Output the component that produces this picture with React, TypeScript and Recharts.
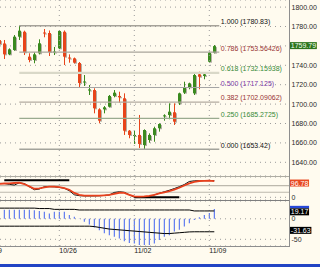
import {
  ComposedChart,
  Bar,
  Line,
  XAxis,
  YAxis,
  CartesianGrid,
  ReferenceLine,
} from "recharts";

// bar numbers (3 sessions per day), dates sit on bars 11, 26, 41
const bars = [
  -1, 0, 1, 2, 3, 4, 5, 6, 7, 8, 9, 10, 11, 12, 13, 14, 15, 16, 17, 18, 19, 20,
  21, 22, 23, 24, 25, 26, 27, 28, 29, 30, 31, 32, 33, 34, 35, 36, 37, 38, 39, 40,
  41, 42,
];
const opens = [
  1766.0, 1762.5, 1751.3, 1755.8, 1769.5, 1774.6, 1748.9, 1745.5, 1752.4, 1773.8,
  1773.3, 1753.2, 1757.5, 1774.6, 1748.0, 1747.2, 1742.4, 1722.3, 1714.0, 1714.5,
  1694.6, 1694.6, 1697.3, 1708.4, 1708.4, 1706.0, 1672.6, 1667.1, 1668.2, 1657.8,
  1663.0, 1668.2, 1675.1, 1687.5, 1688.8, 1691.6, 1700.8, 1711.8, 1717.3, 1711.1,
  1730.7, 1729.0, 1743.7, 1753.0,
];
const highs = [
  1768.1, 1766.1, 1757.5, 1771.2, 1780.83, 1775.7, 1752.4, 1753.4, 1766.8, 1777.4,
  1775.9, 1758.9, 1776.4, 1775.9, 1751.3, 1748.0, 1743.4, 1730.0, 1719.7, 1716.3,
  1695.7, 1698.0, 1709.4, 1714.5, 1712.8, 1711.1, 1673.3, 1672.3, 1688.8, 1674.0,
  1669.9, 1676.7, 1680.2, 1689.5, 1700.8, 1700.8, 1711.8, 1723.1, 1722.1, 1731.8,
  1733.4, 1731.8, 1754.0, 1760.9,
];
const lows = [
  1760.9, 1746.5, 1750.6, 1755.1, 1766.1, 1750.6, 1743.1, 1742.1, 1751.3, 1768.9,
  1749.6, 1750.6, 1756.8, 1740.3, 1742.7, 1741.9, 1716.6, 1718.7, 1709.4, 1690.5,
  1680.2, 1690.5, 1696.7, 1707.0, 1701.4, 1668.2, 1664.8, 1658.9, 1654.7, 1653.42,
  1660.2, 1661.2, 1671.6, 1682.9, 1684.4, 1678.5, 1699.1, 1710.4, 1715.3, 1709.4,
  1715.3, 1725.6, 1743.1, 1752.4,
];
const closes = [
  1762.0, 1751.3, 1756.5, 1769.5, 1775.7, 1753.4, 1745.5, 1751.3, 1762.7, 1773.3,
  1753.7, 1754.2, 1775.4, 1748.9, 1747.5, 1742.7, 1721.8, 1723.3, 1715.1, 1695.7,
  1682.9, 1696.7, 1708.4, 1711.8, 1707.0, 1672.6, 1668.2, 1668.2, 1658.9, 1673.3,
  1668.2, 1675.1, 1679.5, 1688.4, 1692.2, 1681.9, 1711.1, 1717.3, 1721.4, 1730.0,
  1728.2, 1730.7, 1753.0, 1759.79,
];

const stochK = [
  83, 82, 77, 73, 86, 82, 63, 45, 49, 63, 63, 62, 59, 54, 39, 15, 9.5, 8, 8, 8, 9,
  11, 14, 29, 33, 30, 15, 0.5, 0, 1, 4, 14, 24, 33, 42, 52, 63, 76, 94, 98, 99, 99,
  99, 99,
];
const stochD = [
  79, 82, 83, 85, 87, 79, 65, 51, 53, 59, 63, 63, 60, 54, 45, 26, 14, 10, 9.5, 9.5,
  10, 12, 14, 21, 27, 26, 15, 5, 4, 5, 9, 15, 23, 30, 37, 46, 57, 70, 83, 92, 97,
  98, 99, 96.78,
];
const stochMark = [
  null, 102, 102, 102, 102, 102, 102, 102, 102, 102, 102, 102, 102, 102, 102, null,
  null, null, null, null, null, null, null, null, null, null, null, 0, 0, 0, 0, 0,
  0, 0, 0, 0, 0, null, null, null, null, null, null, null,
];

const hist = [
  22, 22, 22, 22, 22, 22, 22, 21, 19, 17, 13, 17, 17, 17, 9, 5, 1, -7, -14, -21, -28,
  -35, -40, -44, -48, -55, -59, -60, -64, -64, -64, -60, -52, -44, -40, -31, -27,
  -19, -11, -3, 4, 9, 14, 24,
];
const upper = [
  26, 26, 26, 26, 26, 26, 26, 26, 25, 25, 25, 23, 23, 23, 23, 23, 21.5, 21.5, 21.5,
  21.5, 21.5, 21.5, 21.5, 21.5, 21.5, 21.5, 21.5, 21.5, 21.5, 21.5, 21.5, 21.5, 21.5,
  21.5, 21.5, 21.5, 21.5, 21.5, 21.5, 19.17, 19.17, 19.17, 19.17, 19.17,
];
const lower = [
  -18, -18, -18, -18, -18, -18, -18, -18, -18, -18, -18, -18, -18, -18, -18, -18,
  -18, -18, -18, -19, -21, -23, -25, -26, -27, -28, -29, -30, -31, -32, -33, -34,
  -35, -36, -36, -35, -34, -33, -32, -31.63, -31.63, -31.63, -31.63, -31.63,
];

const priceTicks = [1640, 1660, 1680, 1700, 1720, 1740, 1760, 1780, 1800];
const stochTicks = [0];
const macdTicks = [-50, 0];
const dateTicks = [-4, 11, 26, 41];
const dateLabels = ["10/19", "10/26", "11/02", "11/09"];

const fibHigh = 1780.83;
const fibLow = 1653.42;
const fibFrom = 3;
const fibTo = 43;
const fibRatios = [1, 0.786, 0.618, 0.5, 0.382, 0.25, 0];
const fibLineColors = ["#a6a299", "#a9a59b", "#d9d8c8", "#a4a4a4", "#b3aba1", "#9aab90", "#a3a39b"];
const fibLineWidths = [1.6, 1.4, 2.4, 1, 1.2, 1.2, 1.6];
const fibTextColors = ["#111111", "#993333", "#378a37", "#7b38a8", "#993333", "#378a37", "#111111"];

const FONT = '"Liberation Sans", Arial, sans-serif';
const BG = "#fffbef";
const UP = "#3a8a1e";
const DOWN = "#e8441a";
const W = 320;
const xDomain = [-0.86, 57.14];
const margin = { top: 0, right: 0, bottom: 0, left: 0 };
const lastClose = closes[closes.length - 1];

const rows = bars.map((k, i) => ({
  k,
  open: opens[i],
  high: highs[i],
  low: lows[i],
  close: closes[i],
  sk: stochK[i],
  sd: stochD[i],
  mark: stochMark[i],
  hist: hist[i],
  upper: upper[i],
  lower: lower[i],
}));

function textWidth(s: string) {
  let w = 0;
  for (const ch of s) w += ch === "." ? 1.95 : ch === "-" ? 2.33 : 3.9;
  return w;
}

function Candle(props: any) {
  const { x, y, width, height, payload } = props;
  if (!payload || height == null) return null;
  const { open, high, low, close } = payload;
  const toY = (v: number) => y + ((high - v) / (high - low)) * height;
  const cx = Math.floor(x + width / 2);
  const color = close >= open ? UP : DOWN;
  const top = Math.min(toY(open), toY(close));
  const bodyH = Math.max(1, Math.abs(toY(open) - toY(close)));
  return (
    <g>
      <rect x={cx} y={top + 1} width={3} height={bodyH} fill="#b4b0a6" />
      <rect x={cx} y={y} width={1} height={height} fill={color} />
      <rect x={cx - 1} y={top} width={3} height={bodyH} fill={color} />
    </g>
  );
}

function Tag(props: any) {
  const { viewBox, text, bg, fg, dy, stripe } = props;
  if (!viewBox) return null;
  const cy = viewBox.y + dy;
  const w = textWidth(text) + 1.5;
  return (
    <g>
      {stripe && <rect x={290} y={cy - 6} width={w} height={2.5} fill={stripe} />}
      <rect x={290} y={cy - 3.5} width={w} height={7} fill={bg} />
      <text x={290.8} y={cy + 2.6} fontSize={7} fill={fg} fontFamily={FONT}>
        {text}
      </text>
    </g>
  );
}

function FibLabel(props: any) {
  const { viewBox, text, color } = props;
  if (!viewBox) return null;
  return (
    <text
      x={viewBox.x + viewBox.width + 1.5}
      y={viewBox.y - 1.6}
      fontSize={7}
      fill={color}
      fontFamily={FONT}
    >
      {text}
    </text>
  );
}

const axisTick = (fmt: (v: number) => string, skip?: (v: number) => boolean) =>
  function AxisTick({ y, payload }: any) {
    if (skip && skip(payload.value)) return <g />;
    return (
      <text x={291.5} y={y + 2.5} fontSize={7} fill="#2a2a2a" fontFamily={FONT}>
        {fmt(payload.value)}
      </text>
    );
  };

const dateGrid = dateTicks.map((t) => (
  <ReferenceLine key={"d" + t} x={t} stroke="#9c9c9c" strokeDasharray="1 4" ifOverflow="hidden" />
));

export default function App() {
  return (
    <div
      style={{
        position: "absolute",
        left: 0,
        top: 0,
        width: W,
        height: 267,
        background: BG,
        overflow: "hidden",
        fontFamily: FONT,
      }}
    >
      <div style={{ position: "absolute", left: 0, top: 0 }}>
        <ComposedChart width={W} height={176} data={rows} margin={margin}>
          <CartesianGrid vertical={false} stroke="#9c9c9c" strokeDasharray="1 4" />
          <XAxis dataKey="k" type="number" domain={xDomain} allowDataOverflow hide />
          <YAxis
            orientation="right"
            width={30}
            type="number"
            domain={[1625.88, 1807.32]}
            allowDataOverflow
            ticks={priceTicks}
            interval={0}
            tickLine={false}
            axisLine={false}
            tick={axisTick((v) => v.toFixed(2), (v) => Math.abs(v - lastClose) < 6)}
          />
          {dateGrid}
          {fibRatios.map((r, i) => {
            const lvl = fibLow + (fibHigh - fibLow) * r;
            const text = `${r.toFixed(3)} (${+lvl.toFixed(5)})`;
            return (
              <ReferenceLine
                key={"f" + r}
                segment={[
                  { x: fibFrom, y: lvl },
                  { x: fibTo, y: lvl },
                ]}
                stroke={fibLineColors[i]}
                strokeWidth={fibLineWidths[i]}
                label={(p: any) => <FibLabel {...p} text={text} color={fibTextColors[i]} />}
              />
            );
          })}
          <Bar
            dataKey={(d: any) => [d.low, d.high]}
            barSize={3}
            shape={<Candle />}
            isAnimationActive={false}
          />
          <ReferenceLine
            y={lastClose}
            stroke="none"
            label={(p: any) => (
              <Tag {...p} text={lastClose.toFixed(2)} bg="#2d741c" fg="#f4fff0" dy={-0.5} />
            )}
          />
        </ComposedChart>
      </div>

      <div style={{ position: "absolute", left: 0, top: 177 }}>
        <ComposedChart width={W} height={23} data={rows} margin={margin}>
          <CartesianGrid vertical={false} stroke="#9c9c9c" strokeDasharray="1 4" />
          <XAxis dataKey="k" type="number" domain={xDomain} allowDataOverflow hide />
          <YAxis
            orientation="right"
            width={30}
            type="number"
            domain={[-16.07, 120.8]}
            allowDataOverflow
            ticks={stochTicks}
            interval={0}
            tickLine={false}
            axisLine={false}
            tick={axisTick((v) => String(v))}
          />
          {dateGrid}
          <ReferenceLine y={70} stroke="#bdb9ad" strokeWidth={1.2} />
          <ReferenceLine y={30} stroke="#bdb9ad" strokeWidth={1.2} />
          <Line dataKey="mark" stroke="#000" strokeWidth={2} dot={false} isAnimationActive={false} />
          <Line dataKey="sk" stroke="#111" strokeWidth={1} dot={false} isAnimationActive={false} />
          <Line dataKey="sd" stroke="#e8401c" strokeWidth={1.8} dot={false} isAnimationActive={false} />
          <ReferenceLine
            y={stochD[stochD.length - 1]}
            stroke="none"
            label={(p: any) => (
              <Tag {...p} text={stochD[stochD.length - 1].toFixed(2)} bg="#e84a22" fg="#ffffff" dy={2} />
            )}
          />
        </ComposedChart>
      </div>

      <div style={{ position: "absolute", left: 0, top: 201 }}>
        <ComposedChart width={W} height={57} data={rows} margin={margin}>
          <CartesianGrid vertical={false} stroke="#9c9c9c" strokeDasharray="1 4" />
          <XAxis
            dataKey="k"
            type="number"
            domain={xDomain}
            allowDataOverflow
            height={12}
            ticks={dateTicks}
            interval={0}
            tickLine={false}
            axisLine={false}
            tick={({ x, payload }: any) => (
              <text x={x} y={52} fontSize={7} fill="#1a1a1a" fontFamily={FONT}>
                {dateLabels[dateTicks.indexOf(payload.value)]}
              </text>
            )}
          />
          <YAxis
            orientation="right"
            width={30}
            type="number"
            domain={[-66.34, 43.41]}
            allowDataOverflow
            ticks={macdTicks}
            interval={0}
            tickLine={false}
            axisLine={false}
            tick={axisTick((v) => String(v))}
          />
          {dateGrid}
          <Bar dataKey="hist" barSize={1} fill="#4062f0" isAnimationActive={false} />
          <Line dataKey="upper" stroke="#000" strokeWidth={1} dot={false} isAnimationActive={false} />
          <Line dataKey="lower" stroke="#000" strokeWidth={1} dot={false} isAnimationActive={false} />
          <ReferenceLine
            y={upper[upper.length - 1]}
            stroke="none"
            label={(p: any) => (
              <Tag {...p} text={upper[upper.length - 1].toFixed(2)} bg="#000" fg="#fff" dy={0.9} stripe="#2848d8" />
            )}
          />
          <ReferenceLine
            y={lower[lower.length - 1]}
            stroke="none"
            label={(p: any) => (
              <Tag {...p} text={lower[lower.length - 1].toFixed(2)} bg="#000" fg="#fff" dy={-1.4} />
            )}
          />
        </ComposedChart>
      </div>

      <div style={{ position: "absolute", left: 0, top: 176, width: 290, height: 1, background: "#aeaca2" }} />
      <div style={{ position: "absolute", left: 0, top: 200, width: 290, height: 1, background: "#7e7e7e" }} />
      <div style={{ position: "absolute", left: 0, top: 246, width: 290, height: 1, background: "#8e8e8e" }} />
      <div style={{ position: "absolute", left: 289, top: 0, width: 1, height: 247, background: "#8e8e8e" }} />
      <div style={{ position: "absolute", left: 0, top: 264, width: W, height: 3, background: "#2244c4" }} />
    </div>
  );
}
